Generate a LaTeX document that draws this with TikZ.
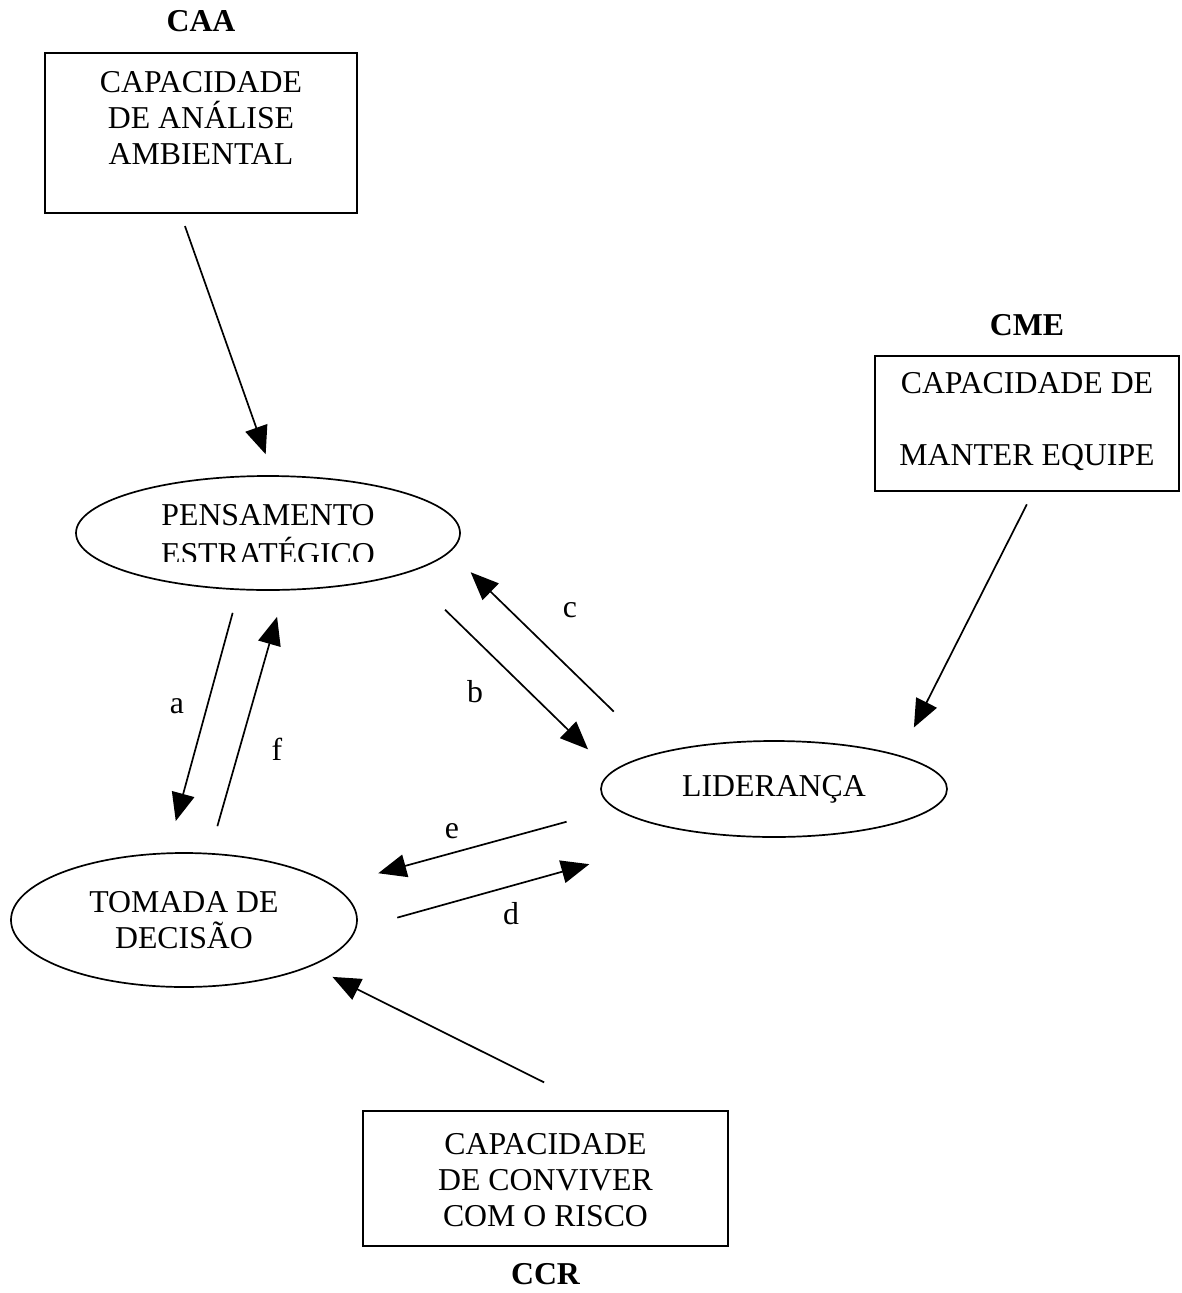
\documentclass[tikz,border=0pt]{standalone}
\usepackage{fontspec}
\setmainfont{Liberation Serif}
\usepackage{trimclip}
\usetikzlibrary{shapes.geometric, positioning, arrows.meta}
\newcommand\diagfont{\fontsize{31.8}{36}\selectfont}

\begin{document}
\begin{tikzpicture}[x=1pt,y=-1pt,font=\diagfont,
                    box/.style={draw, line width=2.4pt, inner sep=0pt},
                    blob/.style={draw, ellipse, line width=1.7pt, inner sep=0pt, align=center},
                    tag/.style={font=\diagfont\bfseries, inner sep=0pt},
                    lbl/.style={inner sep=0pt, anchor=base},
                    flow/.style={-{Triangle[length=28pt,width=23pt]}, line width=1.7pt}]
                        \useasboundingbox (0,0) rectangle (1181,1293);
                        \node[box]  (caa) at (201,133)    {\parbox[c][160pt][t]{312pt}{\centering\vspace*{18pt}CAPACIDADE\\DE ANÁLISE\\AMBIENTAL}};
                        \node[box]  (cme) at (1027,423.5) {\parbox[c][135pt][t]{304pt}{\centering\vspace*{16pt}CAPACIDADE DE\\[36pt]MANTER EQUIPE}};
                        \node[box]  (ccr) at (545.5,1178.5) {\parbox[c][135pt][t]{365pt}{\centering\vspace*{22pt}CAPACIDADE\\DE CONVIVER\\COM O RISCO}};
                        \node[tag]  (caa_t) [above=20pt of caa] {CAA};
                        \node[tag]  (cme_t) [above=19pt of cme] {CME};
                        \node[tag]  (ccr_t) [below=16pt of ccr] {CCR};
                        \node[blob, minimum width=384pt, minimum height=114pt] (pe)  at (268,533) {PENSAMENTO\\\clipbox{0pt 3pt 0pt 0pt}{ESTRATÉGICO}};
                        \node[blob, minimum width=346pt, minimum height=134pt] (td)  at (184,920) {TOMADA DE\\DECISÃO};
                        \node[blob, minimum width=346pt, minimum height=96pt]  (lid) at (774,789) {LIDERANÇA};
                        \draw[flow, shorten <=12.6pt, shorten >=22.2pt]  (caa.256.6) -- (pe.85.8);
                        \draw[flow, shorten <=13.6pt, shorten >=31.2pt]  (cme.275.3) -- (lid.15.9);
                        \draw[flow, shorten <=23.5pt, shorten >=32.6pt]  (pe.243)    -- (td.104.9);
                        \draw[flow, shorten <=27.8pt, shorten >=27.2pt]  (td.69)     -- (pe.286.1);
                        \draw[flow, shorten <=52.6pt, shorten >=32.3pt]  (pe.344.6)  -- (lid.174.7);
                        \draw[flow, shorten <=59.4pt, shorten >=28.8pt]  (lid.163.7) -- (pe.354.8);
                        \draw[flow, shorten <=49.9pt, shorten >=46.3pt]  (lid.187.4) -- (td.13.4);
                        \draw[flow, shorten <=42.5pt, shorten >=115.3pt] (td.357.6)  -- (lid.211.3);
                        \draw[flow, shorten <=61.5pt, shorten >=23.8pt]  (ccr.52.3)  -- (td.340.6);
                        \node[lbl] (l_a) at (177,713) {a};
                        \node[lbl] (l_f) at (277,760) {f};
                        \node[lbl] (l_b) at (475,702) {b};
                        \node[lbl] (l_c) at (570,617) {c};
                        \node[lbl] (l_e) at (452,838) {e};
                        \node[lbl] (l_d) at (511,924) {d};
                    \end{tikzpicture}
\end{document}
